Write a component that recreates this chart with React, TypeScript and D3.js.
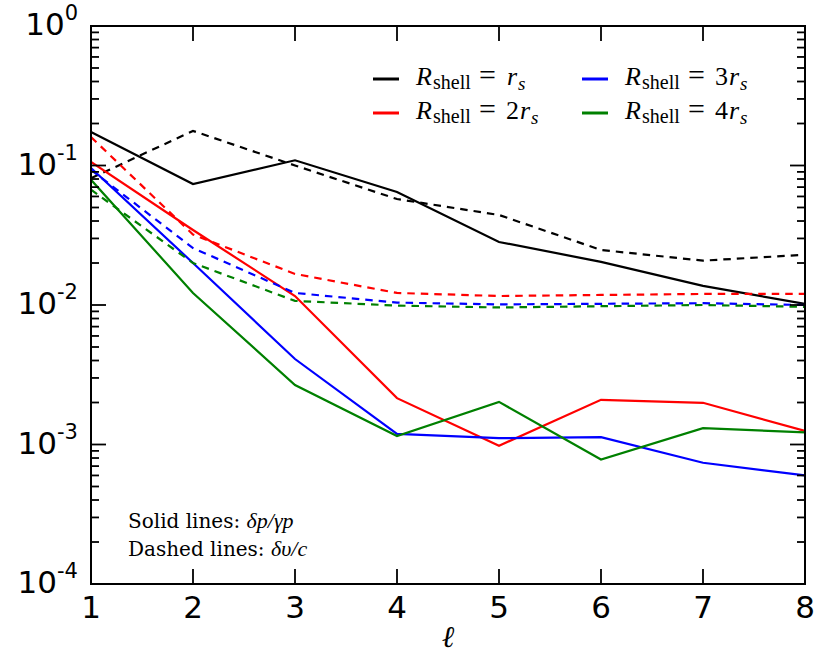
import React from "react";
import * as d3 from "d3";

const ells = [1, 2, 3, 4, 5, 6, 7, 8];
const xTicks = [1, 2, 3, 4, 5, 6, 7, 8];
const yDecades = [0, -1, -2, -3, -4];

const blackSolid = [0.174, 0.0737, 0.109, 0.0645, 0.0283, 0.0204, 0.0137, 0.0102];
const blackDashed = [0.081, 0.177, 0.1, 0.0575, 0.0442, 0.0248, 0.0208, 0.0229];
const redSolid = [0.106, 0.0345, 0.0116, 0.00215, 0.00098, 0.00209, 0.00199, 0.00125];
const redDashed = [0.16, 0.032, 0.0167, 0.0122, 0.0116, 0.0118, 0.012, 0.012];
const blueSolid = [0.096, 0.02, 0.0041, 0.00119, 0.00111, 0.00113, 0.00074, 0.0006];
const blueDashed = [0.093, 0.0256, 0.0122, 0.0104, 0.0101, 0.0102, 0.0103, 0.01];
const greenSolid = [0.079, 0.0122, 0.00267, 0.00115, 0.00202, 0.00078, 0.00131, 0.00122];
const greenDashed = [0.067, 0.02, 0.0107, 0.0099, 0.0096, 0.0098, 0.01, 0.0097];

const seriesList = [
  { name: "1", color: "#000000", solid: blackSolid, dashed: blackDashed },
  { name: "2", color: "#ff0000", solid: redSolid, dashed: redDashed },
  { name: "3", color: "#0000ff", solid: blueSolid, dashed: blueDashed },
  { name: "4", color: "#008000", solid: greenSolid, dashed: greenDashed },
];

const W = 830;
const H = 664;
const L = 91;
const R = 805;
const T = 26;
const B = 584;

export default function App() {
  const x = d3.scaleLinear().domain([1, 8]).range([L, R]);
  const y = d3.scaleLog().domain([1e-4, 1]).range([B, T]);
  const line = d3
    .line<number>()
    .x((_, i) => x(ells[i]))
    .y((d) => y(d));

  const minor: number[] = [];
  for (let e = -4; e < 0; e++) {
    for (let m = 2; m <= 9; m++) minor.push(m * Math.pow(10, e));
  }

  const sans = "DejaVu Sans";
  const serif = "Liberation Serif";

  const legendItems = [
    { color: "#000000", coef: "", col: 0, row: 0 },
    { color: "#ff0000", coef: "2", col: 0, row: 1 },
    { color: "#0000ff", coef: "3", col: 1, row: 0 },
    { color: "#008000", coef: "4", col: 1, row: 1 },
  ];

  return (
    <svg
      width={W}
      height={H}
      style={{ position: "absolute", left: 0, top: 0, background: "#fff" }}
    >
      <rect x={0} y={0} width={W} height={H} fill="#fff" />
      <defs>
        <clipPath id="plot">
          <rect x={L} y={T} width={R - L} height={B - T} />
        </clipPath>
      </defs>

      <g clipPath="url(#plot)">
        {seriesList.map((s) => (
          <g key={s.name}>
            <path
              d={line(s.dashed) || ""}
              fill="none"
              stroke={s.color}
              strokeWidth={2.2}
              strokeDasharray="7.5,6"
            />
            <path
              d={line(s.solid) || ""}
              fill="none"
              stroke={s.color}
              strokeWidth={2.2}
            />
          </g>
        ))}
      </g>

      {/* ticks */}
      <g stroke="#000" strokeWidth={1.8}>
        {xTicks.map((t) => (
          <g key={"xt" + t}>
            <line x1={x(t)} x2={x(t)} y1={B} y2={B - 15} />
            <line x1={x(t)} x2={x(t)} y1={T} y2={T + 15} />
          </g>
        ))}
        {yDecades.map((e) => (
          <g key={"yt" + e}>
            <line x1={L} x2={L + 15} y1={y(Math.pow(10, e))} y2={y(Math.pow(10, e))} />
            <line x1={R} x2={R - 15} y1={y(Math.pow(10, e))} y2={y(Math.pow(10, e))} />
          </g>
        ))}
        {minor.map((v, i) => (
          <g key={"mt" + i}>
            <line x1={L} x2={L + 8} y1={y(v)} y2={y(v)} />
            <line x1={R} x2={R - 8} y1={y(v)} y2={y(v)} />
          </g>
        ))}
      </g>

      <rect
        x={L}
        y={T}
        width={R - L}
        height={B - T}
        fill="none"
        stroke="#000"
        strokeWidth={2}
      />

      {/* x tick labels */}
      {xTicks.map((t) => (
        <text
          key={"xl" + t}
          x={x(t)}
          y={B + 34}
          textAnchor="middle"
          fontFamily={sans}
          fontSize={31}
          fill="#000"
        >
          {t}
        </text>
      ))}

      {/* y tick labels */}
      {yDecades.map((e) => (
        <text
          key={"yl" + e}
          x={78}
          y={y(Math.pow(10, e)) + 9}
          textAnchor="end"
          fontFamily={sans}
          fontSize={31}
          fill="#000"
        >
          10
          <tspan fontSize={21} dy={-15}>
            {e === 0 ? "0" : "-" + Math.abs(e)}
          </tspan>
        </text>
      ))}

      {/* x label */}
      <text
        x={448}
        y={647}
        textAnchor="middle"
        fontFamily="DejaVu Serif"
        fontStyle="italic"
        fontSize={30}
        fill="#000"
      >
        ℓ
      </text>

      {/* legend */}
      {legendItems.map((it) => {
        const hx = it.col === 0 ? 373 : 582;
        const tx = it.col === 0 ? 417 : 626;
        const hy = it.row === 0 ? 79 : 113;
        const rx = tx + 90 + (it.coef ? 13 : 0);
        return (
          <g key={it.color} fill="#000" fontFamily={serif}>
            <line x1={hx} x2={hx + 26} y1={hy} y2={hy} stroke={it.color} strokeWidth={3} />
            <text x={tx - 1} y={hy + 6} fontSize={26} fontStyle="italic">R</text>
            <text x={tx + 16} y={hy + 10} fontSize={20}>shell</text>
            <text x={tx + 62} y={hy + 6} fontSize={30}>=</text>
            {it.coef ? (
              <text x={tx + 89} y={hy + 6} fontSize={26}>{it.coef}</text>
            ) : null}
            <text x={rx} y={hy + 6} fontSize={26} fontStyle="italic">r</text>
            <text x={rx + 11} y={hy + 11} fontSize={19} fontStyle="italic">s</text>
          </g>
        );
      })}

      {/* annotation */}
      <text x={128} y={528} fontFamily="DejaVu Serif" fontSize={20} fill="#000">
        Solid lines:{" "}
        <tspan fontFamily={serif} fontStyle="italic" fontSize={22}>
          δp/γp
        </tspan>
      </text>
      <text x={128} y={556} fontFamily="DejaVu Serif" fontSize={20} fill="#000">
        Dashed lines:{" "}
        <tspan fontFamily={serif} fontStyle="italic" fontSize={22}>
          δυ/c
        </tspan>
      </text>
    </svg>
  );
}
